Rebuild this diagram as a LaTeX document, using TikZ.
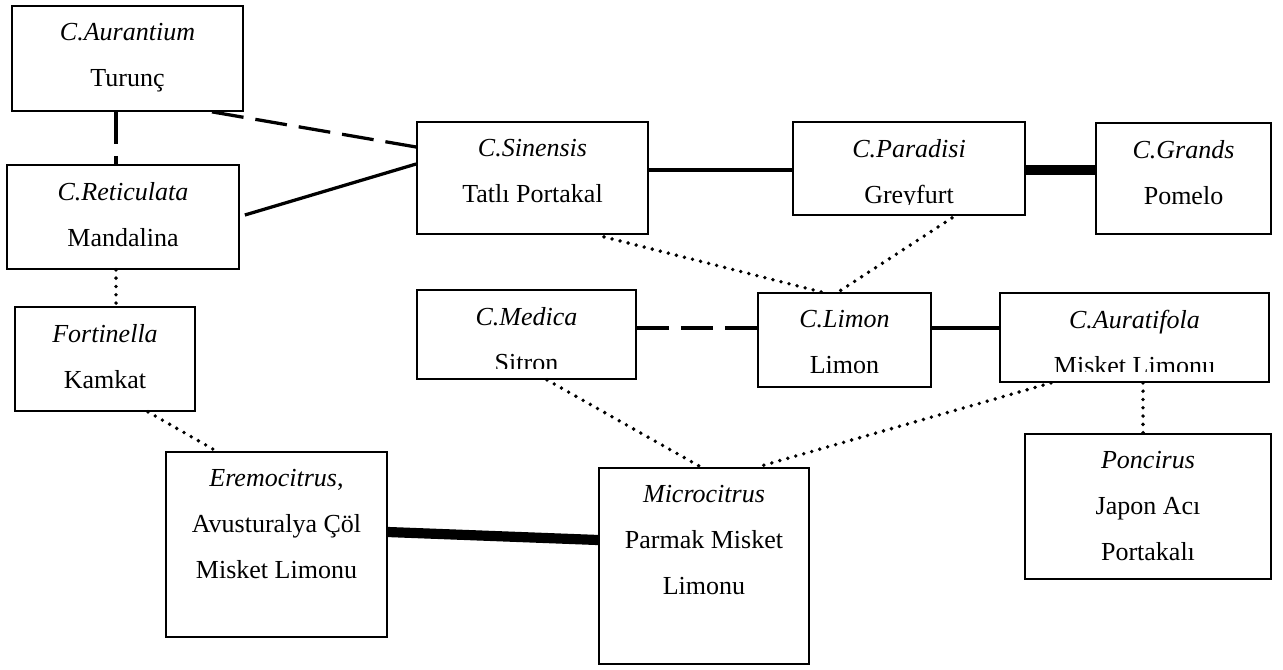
\documentclass[tikz,border=0pt]{standalone}
\usepackage{fontspec}
\setmainfont{Liberation Serif}
\usepackage{tikz}
\usetikzlibrary{calc, positioning}

\begin{document}
\begin{tikzpicture}[x=0.02cm, y=-0.02cm,
  kutu/.style={rectangle, draw=black, line width=1pt, inner sep=0pt},
  yazi/.style={anchor=north, inner sep=0pt, align=center,
    font=\fontsize{14.8pt}{26.4pt}\selectfont},
  duz/.style={black, line width=1.85pt},
  kesik/.style={black, line width=1.85pt, dash pattern=on 0.64cm off 0.24cm},
  nokta/.style={black, line width=2.2pt, line cap=round,
    dash pattern=on 0pt off 0.166cm},
  kalin/.style={black, line width=5.8pt}
]
\useasboundingbox (0,0) rectangle (1283,669);

%% ── Kutular (sol sütun) ──────────────────────────────────────────────
\node[kutu, minimum width=4.62cm, minimum height=2.10cm] (aur) at (127.5, 58.5) {};
\node[yazi] (aur-t) at ([yshift=-0.35cm]aur.north) {\textit{C.Aurantium}\\Turunç};

\node[kutu, minimum width=4.64cm, minimum height=2.08cm] (ret) at (123, 217) {};
\node[yazi] (ret-t) at ([yshift=-0.35cm]ret.north) {\textit{C.Reticulata}\\Mandalina};

\node[kutu, minimum width=3.60cm, minimum height=2.08cm] (for) at (105, 359) {};
\node[yazi] (for-t) at ([yshift=-0.35cm]for.north) {\textit{Fortinella}\\Kamkat};

\node[kutu, minimum width=4.42cm, minimum height=3.70cm] (ere) at (276.5, 544.5) {};
\node[yazi] (ere-t) at ([yshift=-0.35cm]ere.north)
  {\textit{Eremocitrus},\\Avusturalya Çöl\\Misket Limonu};

%% ── Kutular (üst sıra) ───────────────────────────────────────────────
\node[kutu, minimum width=4.62cm, minimum height=2.24cm] (sin) at (532.5, 178) {};
\node[yazi] (sin-t) at ([yshift=-0.35cm]sin.north) {\textit{C.Sinensis}\\Tatlı Portakal};

\node[kutu, minimum width=4.64cm, minimum height=1.86cm] (par) at (909, 168.5) {};
\begin{scope}
  \clip (par.north west) rectangle ([yshift=0.22cm]par.south east);
  \node[yazi] (par-t) at ([yshift=-0.35cm]par.north) {\textit{C.Paradisi}\\Greyfurt};
\end{scope}

\node[kutu, minimum width=3.50cm, minimum height=2.22cm] (gra) at (1183.5, 178.5) {};
\node[yazi] (gra-t) at ([yshift=-0.35cm]gra.north) {\textit{C.Grands}\\Pomelo};

%% ── Kutular (orta sıra) ──────────────────────────────────────────────
\node[kutu, minimum width=4.38cm, minimum height=1.78cm] (med) at (526.5, 334.5) {};
\begin{scope}
  \clip (med.north west) rectangle ([yshift=0.22cm]med.south east);
  \node[yazi] (med-t) at ([yshift=-0.35cm]med.north) {\textit{C.Medica}\\Sitron};
\end{scope}

\node[kutu, minimum width=3.46cm, minimum height=1.88cm] (lim) at (844.5, 340) {};
\node[yazi] (lim-t) at ([yshift=-0.35cm]lim.north) {\textit{C.Limon}\\Limon};

\node[kutu, minimum width=5.38cm, minimum height=1.78cm] (aut) at (1134.5, 337.5) {};
\begin{scope}
  \clip (aut.north west) rectangle ([yshift=0.22cm]aut.south east);
  \node[yazi] (aut-t) at ([yshift=-0.35cm]aut.north) {\textit{C.Auratifola}\\Misket Limonu};
\end{scope}

%% ── Kutular (alt sıra) ───────────────────────────────────────────────
\node[kutu, minimum width=4.20cm, minimum height=3.92cm] (mic) at (704, 566) {};
\node[yazi] (mic-t) at ([yshift=-0.35cm]mic.north)
  {\textit{Microcitrus}\\Parmak Misket\\Limonu};

\node[kutu, minimum width=4.92cm, minimum height=2.90cm] (pon) at (1148, 506.5) {};
\node[yazi] (pon-t) at ([yshift=-0.35cm]pon.north)
  {\textit{Poncirus}\\Japon Acı\\Portakalı};

%% ── Bağlantılar ──────────────────────────────────────────────────────
\draw[kesik] ([xshift=-0.23cm]aur.south) -- ([xshift=-0.23cm]aur.south |- ret.north);
\draw[kesik] ([xshift=1.69cm]aur.south) -- ([yshift=0.62cm]sin.west);
\draw[duz] ([xshift=0.1cm, yshift=0.04cm]ret.east) -- ([yshift=0.28cm]sin.west);
\draw[duz] ([yshift=-0.03cm]par.west -| sin.east) -- ([yshift=-0.03cm]par.west);
\draw[kalin] ([yshift=-0.03cm]par.east) -- ([yshift=-0.03cm]par.east -| gra.west);

\draw[nokta] ([xshift=1.43cm, yshift=-0.04cm]sin.south) -- ([xshift=-0.45cm]lim.north);
\draw[nokta] ([xshift=0.86cm, yshift=-0.04cm]par.south) -- ([xshift=-0.13cm]lim.north);
\draw[kesik] ([yshift=0.13cm]med.east) -- ([yshift=0.13cm]med.east -| lim.west);
\draw[duz] ([yshift=0.24cm]lim.east) -- ([yshift=0.24cm]lim.east -| aut.west);

\draw[nokta] ([xshift=-0.14cm]ret.south) -- ([xshift=-0.14cm]ret.south |- for.north);
\draw[nokta] ([xshift=0.86cm]for.south) -- ([xshift=-1.27cm, yshift=0.04cm]ere.north);
\draw[kalin] ([yshift=0.25cm]ere.east) -- ([yshift=0.52cm]mic.west);
\draw[nokta] ([xshift=0.41cm]med.south) -- ([xshift=-0.06cm]mic.north);
\draw[nokta] ([xshift=-1.67cm]aut.south) -- ([xshift=1.06cm]mic.north);
\draw[nokta] ([xshift=0.17cm]aut.south) -- ([xshift=0.17cm]aut.south |- pon.north);

\end{tikzpicture}
\end{document}
